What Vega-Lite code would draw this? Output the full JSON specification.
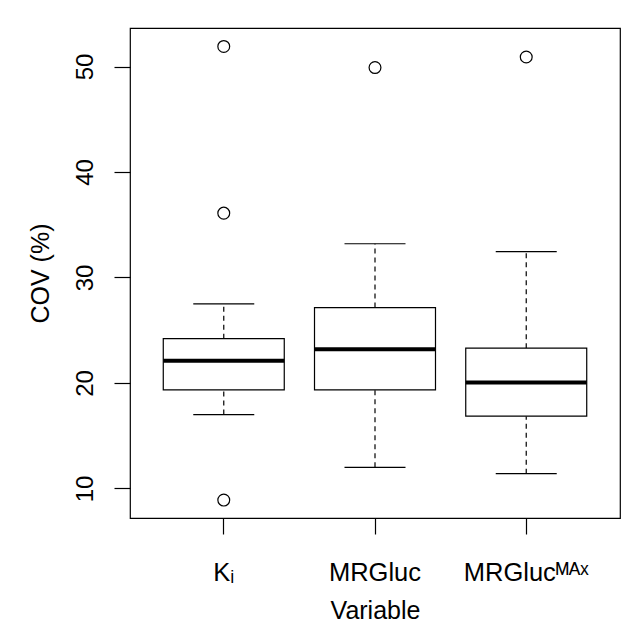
{
  "$schema": "https://vega.github.io/schema/vega-lite/v6.json",
  "autosize": "none",
  "width": 490,
  "height": 490,
  "padding": {"left": 130, "top": 28, "right": 5, "bottom": 106},
  "background": "white",
  "config": {
    "view": {"stroke": "black", "strokeWidth": 1.2},
    "font": "Liberation Sans",
    "axis": {"grid": false, "domain": false, "labelColor": "black", "titleColor": "black", "tickColor": "black", "tickWidth": 1.2, "titleFontWeight": "normal", "labelFont": "Liberation Sans", "titleFont": "Liberation Sans"}
  },
  "datasets": {
    "stats": [
      {"var": "Kᵢ", "lo": 17.0, "q1": 19.35, "med": 22.1, "q3": 24.2, "hi": 27.5},
      {"var": "MRGluc", "lo": 12.0, "q1": 19.35, "med": 23.2, "q3": 27.15, "hi": 33.2},
      {"var": "MRGlucᴹᴬˣ", "lo": 11.4, "q1": 16.85, "med": 20.05, "q3": 23.3, "hi": 32.45}
    ],
    "outliers": [
      {"var": "Kᵢ", "value": 51.9},
      {"var": "Kᵢ", "value": 36.1},
      {"var": "Kᵢ", "value": 8.9},
      {"var": "MRGluc", "value": 49.9},
      {"var": "MRGlucᴹᴬˣ", "value": 50.9}
    ]
  },
  "encoding": {
    "x": {
      "field": "var", "type": "nominal",
      "scale": {"domain": ["Kᵢ", "MRGluc", "MRGlucᴹᴬˣ"], "paddingInner": 0.2, "paddingOuter": 0.22},
      "sort": null,
      "axis": {"title": "Variable", "labelAngle": 0, "tickSize": 16, "labelFontSize": 25.5, "labelBaseline": "alphabetic", "labelPadding": 46, "titleFontSize": 25, "titleBaseline": "alphabetic", "titleX": 245, "titleY": 100}
    }
  },
  "layer": [
    {
      "data": {"name": "stats"},
      "mark": {"type": "rule", "strokeDash": [5, 4], "strokeWidth": 1.2, "color": "black"},
      "encoding": {
        "y": {"field": "q3", "type": "quantitative", "scale": {"domain": [7.2, 53.65], "nice": false, "zero": false},
          "axis": {"title": "COV (%)", "values": [10, 20, 30, 40, 50], "tickSize": 16, "labelAngle": -90, "labelAlign": "center", "labelBaseline": "alphabetic", "labelPadding": 22, "labelFontSize": 24, "titleFontSize": 25, "titleAngle": -90, "titleBaseline": "alphabetic", "titleAlign": "center", "titleX": -81.5, "titleY": 245}},
        "y2": {"field": "hi"}
      }
    },
    {
      "data": {"name": "stats"},
      "mark": {"type": "rule", "strokeDash": [5, 4], "strokeWidth": 1.2, "color": "black"},
      "encoding": {
        "y": {"field": "lo", "type": "quantitative"},
        "y2": {"field": "q1"}
      }
    },
    {
      "data": {"name": "stats"},
      "mark": {"type": "tick", "size": 61, "thickness": 1.2, "color": "black", "opacity": 1},
      "encoding": {"y": {"field": "hi", "type": "quantitative"}}
    },
    {
      "data": {"name": "stats"},
      "mark": {"type": "tick", "size": 61, "thickness": 1.2, "color": "black", "opacity": 1},
      "encoding": {"y": {"field": "lo", "type": "quantitative"}}
    },
    {
      "data": {"name": "stats"},
      "mark": {"type": "bar", "fill": "white", "stroke": "black", "strokeWidth": 1.2},
      "encoding": {
        "y": {"field": "q1", "type": "quantitative"},
        "y2": {"field": "q3"}
      }
    },
    {
      "data": {"name": "stats"},
      "mark": {"type": "tick", "size": 121, "thickness": 4, "color": "black", "opacity": 1},
      "encoding": {"y": {"field": "med", "type": "quantitative"}}
    },
    {
      "data": {"name": "outliers"},
      "mark": {"type": "point", "shape": "circle", "filled": false, "size": 140, "stroke": "black", "strokeWidth": 1.2, "opacity": 1},
      "encoding": {"y": {"field": "value", "type": "quantitative"}}
    }
  ]
}
